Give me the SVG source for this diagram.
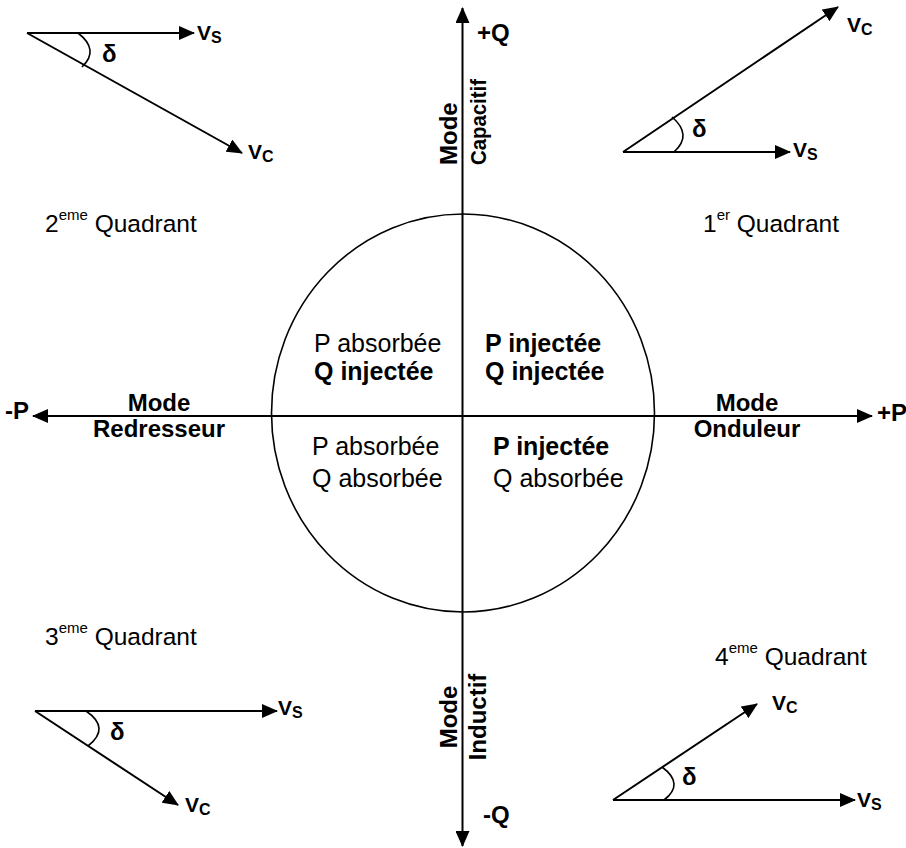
<svg xmlns="http://www.w3.org/2000/svg" width="906" height="848" viewBox="0 0 906 848">
<style>
text{font-family:"Liberation Sans",Arial,sans-serif;fill:#000}
.b{font-weight:bold}
.t{font-size:25px}
.q{font-size:24.5px}
.m{font-size:24px;font-weight:bold}
.v{font-size:21px;font-weight:bold}
.d{font-size:24px;font-weight:bold}
.sub{font-size:16px}
.sup{font-size:15px}
.ln{stroke:#000;stroke-width:2;fill:none}
.arc{stroke:#000;stroke-width:1.6;fill:none}
</style>
<defs>
<marker id="ah" markerUnits="userSpaceOnUse" markerWidth="16" markerHeight="14" refX="15" refY="7" orient="auto-start-reverse">
<path d="M0,0 L16,7 L0,14 z" fill="#000"/>
</marker>
</defs>
<rect width="906" height="848" fill="#fff"/>

<g id="connectors">
<line class="ln" x1="33" y1="416" x2="872" y2="416" marker-start="url(#ah)" marker-end="url(#ah)"/>
<line class="ln" x1="462.5" y1="8" x2="462.5" y2="846" marker-start="url(#ah)" marker-end="url(#ah)"/>
</g>

<g id="circle">
<ellipse cx="463" cy="413" rx="191.5" ry="199" fill="none" stroke="#000" stroke-width="1.6"/>
</g>

<g id="axis-labels">
<text class="m" x="5" y="419">-P</text>
<text class="m" x="877" y="421">+P</text>
<text class="m" x="477" y="41">+Q</text>
<text class="m" x="483" y="823">-Q</text>
</g>

<g id="mode-redresseur">
<text class="m" x="159" y="411" text-anchor="middle">Mode</text>
<text class="m" x="159" y="437" text-anchor="middle">Redresseur</text>
</g>
<g id="mode-onduleur">
<text class="m" x="747" y="411" text-anchor="middle">Mode</text>
<text class="m" x="747" y="437" text-anchor="middle">Onduleur</text>
</g>
<g id="mode-capacitif">
<text class="m" transform="translate(457,165) rotate(-90)">Mode</text>
<text class="m" transform="translate(486,165) rotate(-90)" style="font-size:22px" textLength="86" lengthAdjust="spacingAndGlyphs">Capacitif</text>
</g>
<g id="mode-inductif">
<text class="m" transform="translate(457,717) rotate(-90)" text-anchor="middle">Mode</text>
<text class="m" transform="translate(486,717) rotate(-90)" text-anchor="middle">Inductif</text>
</g>

<g id="zone-ul">
<text class="t" x="314" y="352">P absorbée</text>
<text class="t b" x="314" y="380">Q injectée</text>
</g>
<g id="zone-ur">
<text class="t b" x="485" y="352">P injectée</text>
<text class="t b" x="485" y="380">Q injectée</text>
</g>
<g id="zone-ll">
<text class="t" x="312" y="455">P absorbée</text>
<text class="t" x="312" y="487">Q absorbée</text>
</g>
<g id="zone-lr">
<text class="t b" x="493" y="455">P injectée</text>
<text class="t" x="493" y="487">Q absorbée</text>
</g>

<g id="quadrant-1">
<text class="q" x="703" y="232">1<tspan class="sup" dy="-12">er</tspan><tspan dy="12"> Quadrant</tspan></text>
</g>
<g id="quadrant-2">
<text class="q" x="45" y="232">2<tspan class="sup" dy="-12">eme</tspan><tspan dy="12"> Quadrant</tspan></text>
</g>
<g id="quadrant-3">
<text class="q" x="45" y="645">3<tspan class="sup" dy="-12">eme</tspan><tspan dy="12"> Quadrant</tspan></text>
</g>
<g id="quadrant-4">
<text class="q" x="715" y="665">4<tspan class="sup" dy="-12">eme</tspan><tspan dy="12"> Quadrant</tspan></text>
</g>

<g id="phasor-2">
<line class="ln" x1="27" y1="33" x2="194" y2="33" marker-end="url(#ah)"/>
<line class="ln" x1="27" y1="33" x2="242" y2="153" marker-end="url(#ah)"/>
<path class="arc" d="M78,33 Q100,50 82,67"/>
<text class="d" x="102" y="62">δ</text>
<text class="v" x="197" y="40">V<tspan class="sub" dy="3">S</tspan></text>
<text class="v" x="248" y="159">V<tspan class="sub" dy="3">C</tspan></text>
</g>
<g id="phasor-1">
<line class="ln" x1="623" y1="152" x2="790" y2="152" marker-end="url(#ah)"/>
<line class="ln" x1="623" y1="152" x2="838" y2="7" marker-end="url(#ah)"/>
<path class="arc" d="M672,117 Q693,135 674,152"/>
<text class="d" x="692" y="137">δ</text>
<text class="v" x="793" y="157">V<tspan class="sub" dy="3">S</tspan></text>
<text class="v" x="847" y="32">V<tspan class="sub" dy="3">C</tspan></text>
</g>
<g id="phasor-3">
<line class="ln" x1="35" y1="711" x2="277" y2="711" marker-end="url(#ah)"/>
<line class="ln" x1="35" y1="711" x2="178" y2="805" marker-end="url(#ah)"/>
<path class="arc" d="M86,711 Q111,728 88,746"/>
<text class="d" x="110" y="740">δ</text>
<text class="v" x="278" y="715">V<tspan class="sub" dy="3">S</tspan></text>
<text class="v" x="185" y="812">V<tspan class="sub" dy="3">C</tspan></text>
</g>
<g id="phasor-4">
<line class="ln" x1="613" y1="800" x2="855" y2="800" marker-end="url(#ah)"/>
<line class="ln" x1="613" y1="800" x2="757" y2="704" marker-end="url(#ah)"/>
<path class="arc" d="M662,767 Q685,784 664,800"/>
<text class="d" x="682" y="785">δ</text>
<text class="v" x="857" y="807">V<tspan class="sub" dy="3">S</tspan></text>
<text class="v" x="772" y="710">V<tspan class="sub" dy="3">C</tspan></text>
</g>
</svg>
